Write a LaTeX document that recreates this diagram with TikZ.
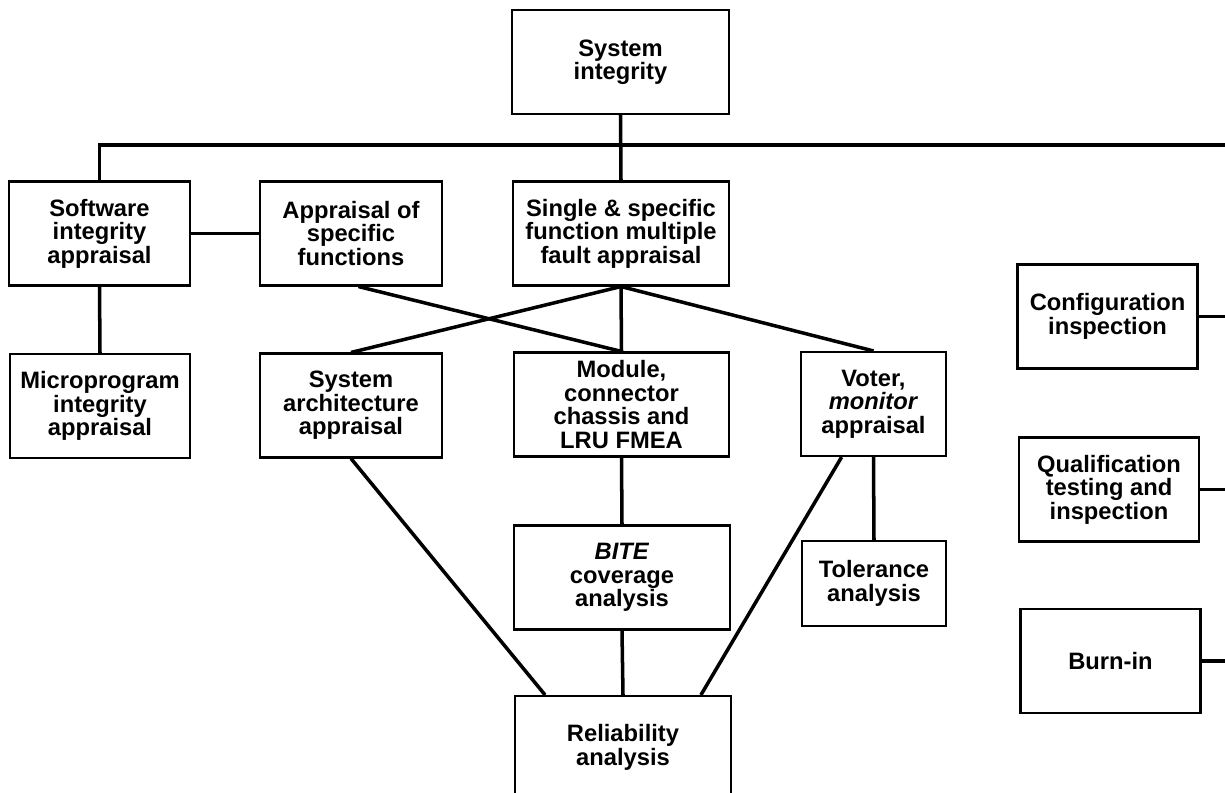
\documentclass[tikz,border=0pt]{standalone}
\usepackage{fontspec}
\setmainfont{Liberation Sans}

\begin{document}
\begin{tikzpicture}[x=0.02cm,y=-0.02cm,
	every node/.style={draw,line width=1.2pt,align=center,inner sep=2pt,minimum height=2.08cm,font=\bfseries\fontsize{13.5}{13.4}\selectfont},
	link/.style={line width=2pt}]
\useasboundingbox (0,0) rectangle (1225,792);

%boxes
\node[minimum width=4.34cm] (sys) at (620.5,62) {System\\integrity};
\node[minimum width=3.62cm] (soft) at (99.5,233.5) {Software\\integrity\\appraisal};
\node[minimum width=3.64cm] (appr) at (351,233.5) {Appraisal of\\specific\\functions};
\node[minimum width=4.32cm] (single) at (621,233.5) {Single \& specific\\function multiple\\fault appraisal};
\node[minimum width=3.6cm] (micro) at (100,406) {Microprogram\\integrity\\appraisal};
\node[minimum width=3.64cm] (arch) at (351,405.5) {System\\architecture\\appraisal};
\node[minimum width=4.3cm] (module) at (621.5,404.5) {Module,\\connector\\chassis and\\LRU FMEA};
\node[minimum width=2.9cm] (voter) at (873.5,404) {Voter,\\\textit{monitor}\\appraisal};
\node[minimum width=4.32cm] (bite) at (622,577.5) {\textit{BITE}\\coverage\\analysis};
\node[minimum width=2.88cm,minimum height=1.7cm] (tol) at (874,583.5) {Tolerance\\analysis};
\node[minimum width=4.32cm,minimum height=2.06cm] (rel) at (623,747.5) {Reliability\\analysis};

\foreach \nm/\x/\y/\txt in {conf/1107.5/316.5/{Configuration\\inspection},
	qual/1109/489.5/{Qualification\\testing and\\inspection},
	burn/1110.5/661/Burn-in}{
	\node[minimum width=3.6cm] (\nm) at (\x,\y) {\txt};
}

%edges
\coordinate (edge) at (1225,145);
\draw[link] (soft.north) |- (edge);
\draw[link] (sys.south) -- (single.north);
\draw[link] (soft.east) -- (appr.west);
\draw[link] (soft.south) -- (micro.north);
\draw[link] (appr.-82) -- (module.north);
\foreach \to in {arch,module,voter}
	\draw[link] (single.south) -- (\to.north);
\draw[link] (module.south) -- (bite.north);
\draw[link] (bite.south) -- (rel.north);
\draw[link] (voter.south) -- (tol.north);
\draw[link] (arch.south) -- (rel.146);
\draw[link] (voter.239) -- (rel.34);

%right side
\foreach \nm in {conf,qual,burn}
	\draw[link] (\nm.east) -- (\nm.east -| edge);

\end{tikzpicture}
\end{document}
